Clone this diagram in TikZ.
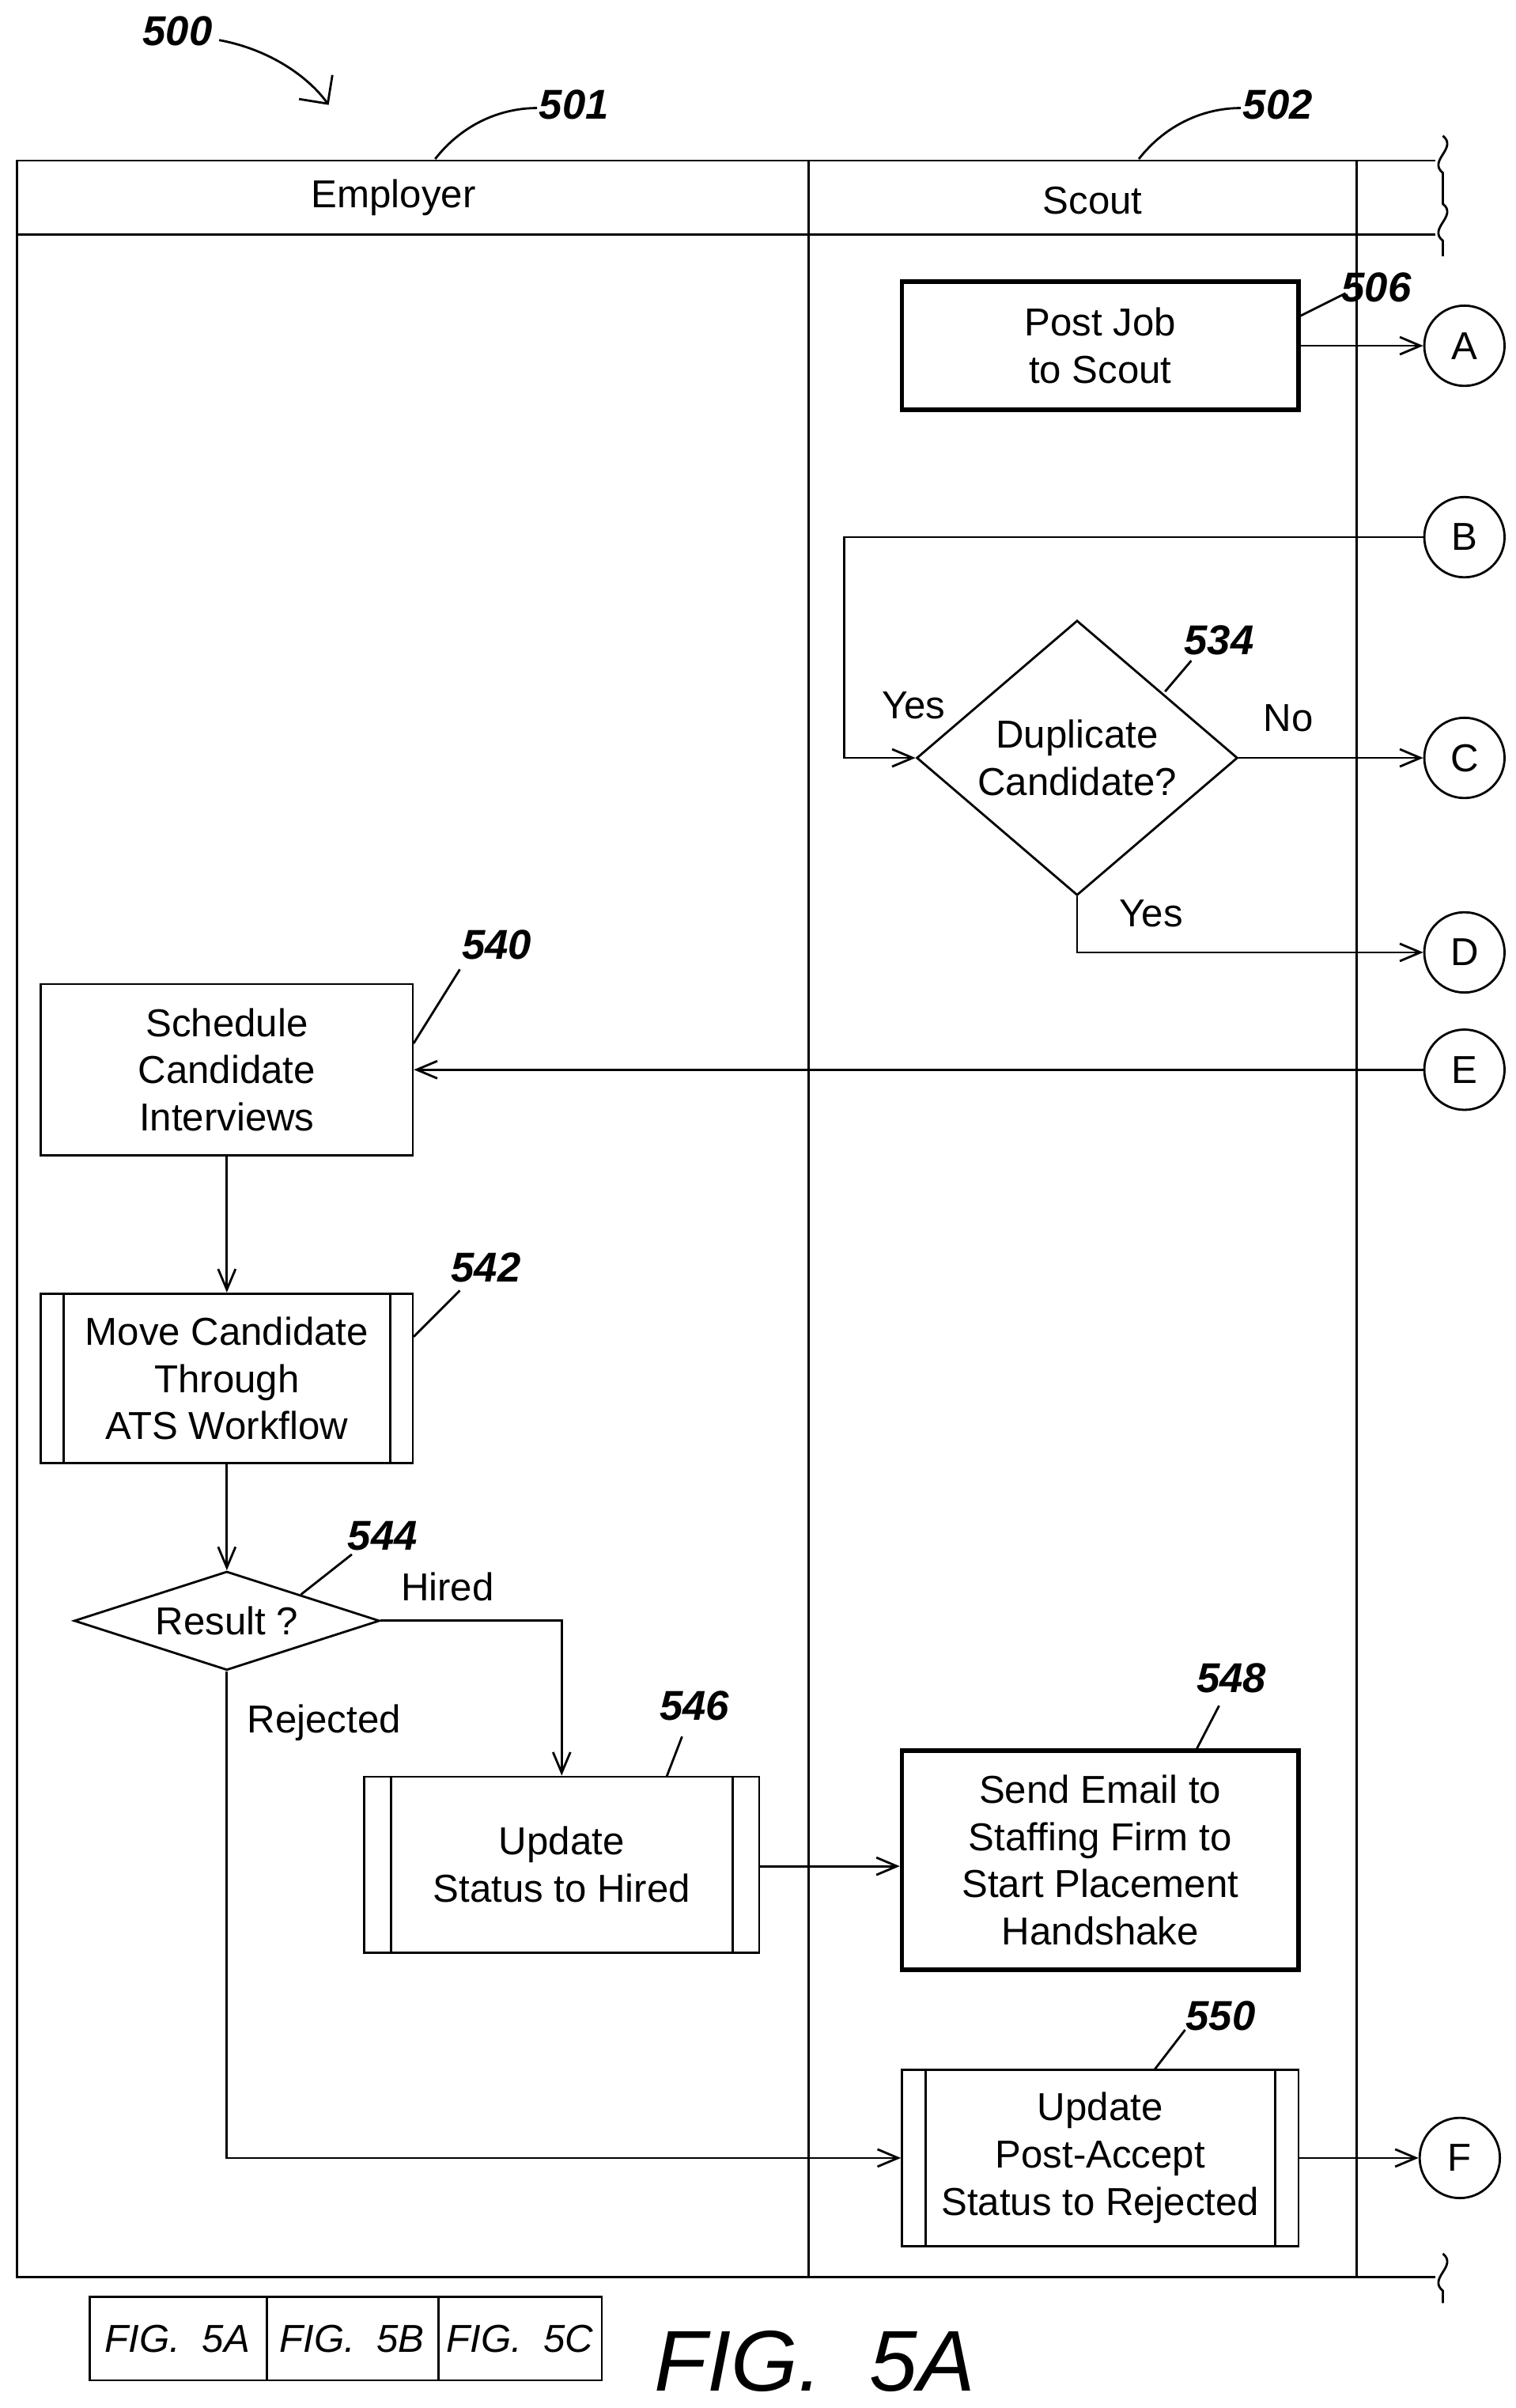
\documentclass[tikz,border=0pt]{standalone}
\usepackage{fontspec}
\setmainfont{Liberation Sans}
\usetikzlibrary{positioning, shapes.geometric, arrows.meta}

\begin{document}
\begin{tikzpicture}[
        x=0.01951cm, y=-0.01951cm,
        font=\fontsize{14}{17}\selectfont,
        sz/.style 2 args={minimum width=#1*0.01951cm, minimum height=#2*0.01951cm},
        box/.style={rectangle, draw=black, thick, inner sep=2pt, align=center},
        bold box/.style={box, line width=1.6pt},
        dec/.style={diamond, draw=black, thick, inner sep=0pt, align=center},
        conn/.style={circle, draw=black, thick, minimum size=52*0.01951cm, inner sep=0pt},
        ref/.style={font=\fontsize{15}{17}\selectfont\bfseries\itshape},
        arrow/.style={-{Straight Barb[length=2.6mm,width=2.2mm]}, thick}
        ]
        \useasboundingbox (0,0) rectangle (982,1560);

        % swim lanes
        \draw[thick] (930,104) -- (11,104) -- (11,1475) -- (930,1475);
        \draw[thick] (11,152) -- (930,152);
        \draw[thick] (524,104) -- (524,1475);
        \draw[thick] (879,104) -- (879,1475);
        \draw[thick] (935,88) .. controls (945,96) and (925,104) .. (935,112) -- (935,132)
                     .. controls (945,140) and (925,148) .. (935,156) -- (935,166);
        \draw[thick] (935,1460) .. controls (945,1468) and (925,1476) .. (935,1484) -- (935,1492);
        \node (employer) at (255,128) {Employer};
        \node (scout) at (708,130) {Scout};

        % figure labels
        \node[ref] (l500) at (115,20) {500};
        \draw[-{Straight Barb[length=2.6mm]}, thick] (142,26) .. controls (175,32) and (200,50) .. (213,68);
        \node[ref] (l501) at (372,68) {501};
        \draw[thick] (282,103) .. controls (300,80) and (325,70) .. (348,70);
        \node[ref] (l502) at (828,68) {502};
        \draw[thick] (738,103) .. controls (756,80) and (781,70) .. (804,70);

        % scout lane
        \node[bold box, sz={257}{83}] (post) at (713,224) {Post Job\\to Scout};
        \node[ref] (l506) at (892,186) {506};
        \draw[thick] (842,205) -- (872,190);
        \node[conn] (A) at (949,224) {A};
        \draw[arrow] (post) -- (A);

        \node[conn] (B) at (949,348) {B};
        \node[dec, sz={208}{174}] (dup) at (698,491) {Duplicate\\Candidate?};
        \node[ref] (l534) at (790,415) {534};
        \draw[thick] (755,448) -- (772,428);
        \coordinate (bturn) at (547,491);
        \draw[arrow] (B.west) -| (bturn) -- (dup.west);
        \node (yes1) at (592,457) {Yes};
        \node[conn] (C) at (949,491) {C};
        \draw[arrow] (dup.east) -- (C);
        \node (no) at (835,465) {No};
        \node[conn] (D) at (949,617) {D};
        \draw[arrow] (dup.south) |- (D);
        \node (yes2) at (746,592) {Yes};

        % employer lane
        \node[conn] (E) at (949,693) {E};
        \node[box, sz={241}{111}] (sched) at (147,693) {Schedule\\Candidate\\Interviews};
        \node[ref] (l540) at (322,612) {540};
        \draw[thick] (268,676) -- (298,628);
        \draw[arrow] (E) -- (sched);

        \node[box, sz={241}{110}] (move) at (147,893) {Move Candidate\\Through\\ATS Workflow};
        \draw[thick] ([xshift=0.3cm]move.north west) -- ([xshift=0.3cm]move.south west);
        \draw[thick] ([xshift=-0.3cm]move.north east) -- ([xshift=-0.3cm]move.south east);
        \node[ref] (l542) at (315,821) {542};
        \draw[thick] (268,866) -- (298,836);
        \draw[arrow] (sched) -- (move);

        \node[dec, aspect=3.1, sz={198}{64}] (result) at (147,1050) {Result ?};
        \node[ref] (l544) at (248,995) {544};
        \draw[thick] (195,1033) -- (228,1007);
        \draw[arrow] (move) -- (result);

        \node[box, sz={256}{114}] (hired) at (364,1208) {Update\\Status to Hired};
        \draw[thick] ([xshift=0.35cm]hired.north west) -- ([xshift=0.35cm]hired.south west);
        \draw[thick] ([xshift=-0.35cm]hired.north east) -- ([xshift=-0.35cm]hired.south east);
        \node[ref] (l546) at (450,1105) {546};
        \draw[thick] (432,1151) -- (442,1125);
        \draw[arrow] (result.east) -| (hired.north);
        \node (hiredlbl) at (290,1028) {Hired};

        \node[bold box, sz={257}{142}] (email) at (713,1205) {Send Email to\\Staffing Firm to\\Start Placement\\Handshake};
        \node[ref] (l548) at (798,1087) {548};
        \draw[thick] (775,1134) -- (790,1105);
        \draw[arrow] (hired.east |- 0,1209) -- (email.west |- 0,1209);

        \node[box, sz={257}{114}] (reject) at (713,1398) {Update\\Post-Accept\\Status to Rejected};
        \draw[thick] ([xshift=0.31cm]reject.north west) -- ([xshift=0.31cm]reject.south west);
        \draw[thick] ([xshift=-0.31cm]reject.north east) -- ([xshift=-0.31cm]reject.south east);
        \node[ref] (l550) at (791,1306) {550};
        \draw[thick] (748,1341) -- (768,1315);
        \draw[arrow] (result.south) |- (reject.west);
        \node (rejlbl) at (210,1116) {Rejected};
        \node[conn] (F) at (946,1398) {F};
        \draw[arrow] (reject) -- (F);

        % sheet key
        \draw[thick] (58,1488) rectangle (390,1542);
        \draw[thick] (173,1488) -- (173,1542);
        \draw[thick] (284,1488) -- (284,1542);
        \node[font=\fontsize{14}{17}\selectfont\itshape] (k5a) at (115,1515) {FIG.\ \ 5A};
        \node[font=\fontsize{14}{17}\selectfont\itshape] (k5b) at (228,1515) {FIG.\ \ 5B};
        \node[font=\fontsize{14}{17}\selectfont\itshape] (k5c) at (337,1515) {FIG.\ \ 5C};
        \node[font=\fontsize{31}{34}\selectfont\itshape] (fig) at (528,1530) {FIG.\ \ 5A};
    \end{tikzpicture}
\end{document}
